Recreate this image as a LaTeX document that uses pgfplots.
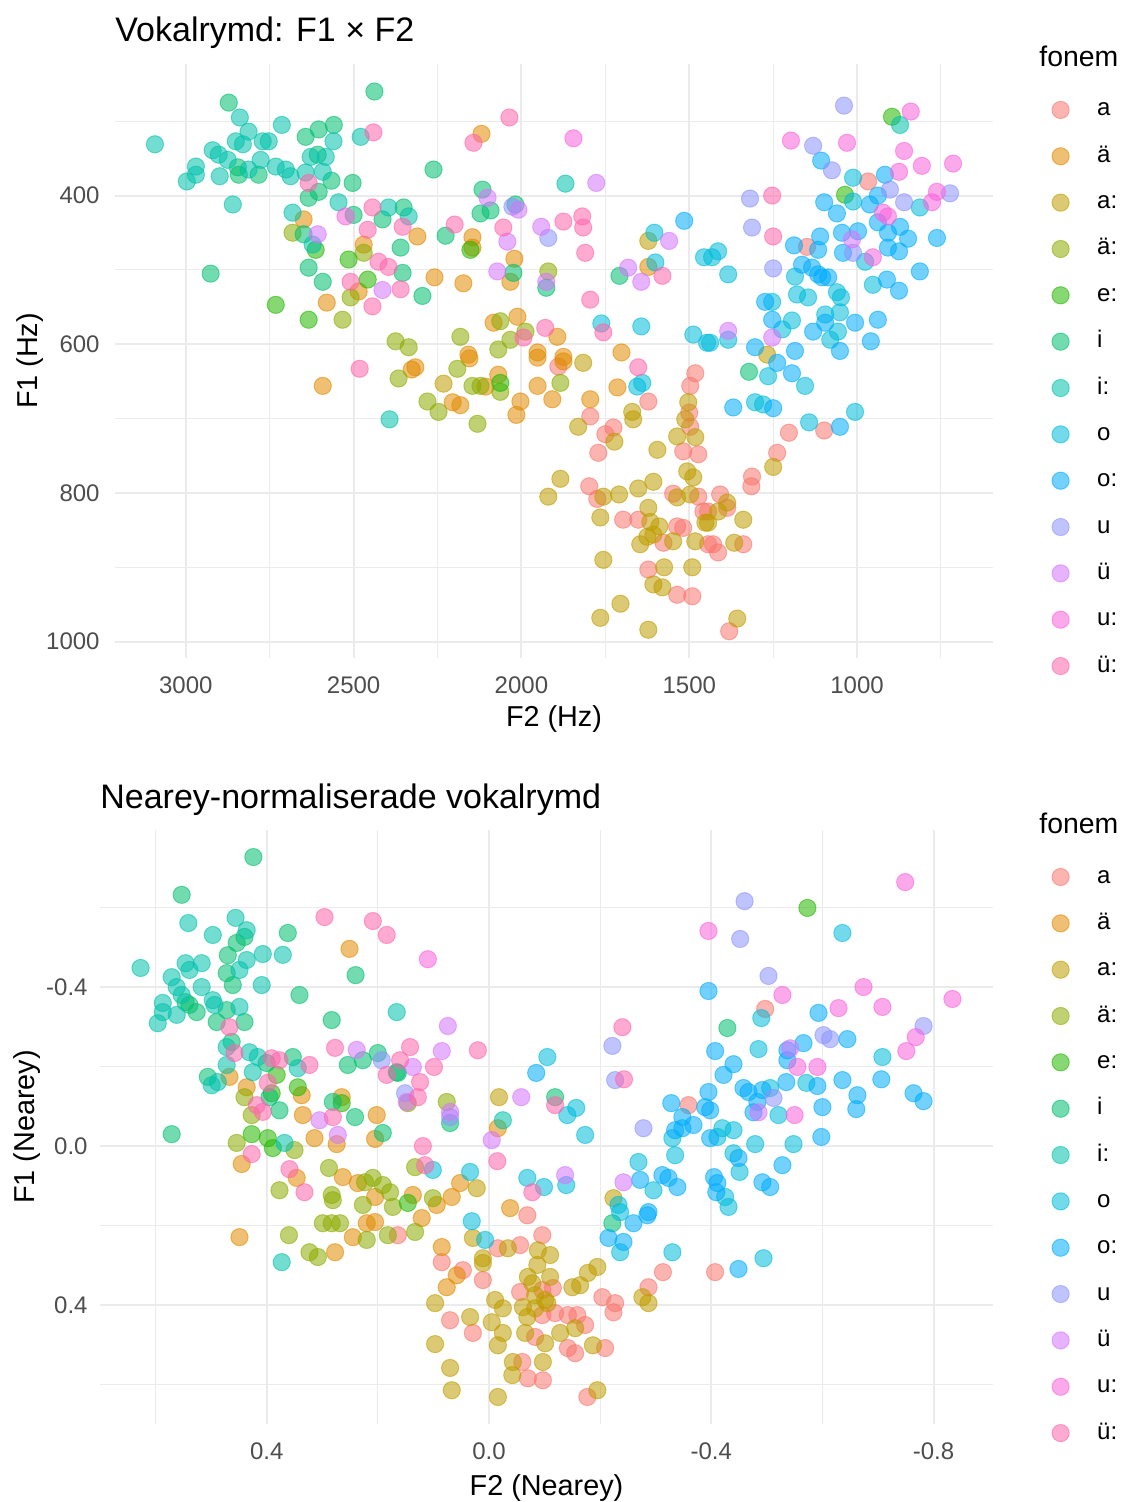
\documentclass[border=0pt]{standalone}
\usepackage{fontspec}
\setmainfont{Liberation Sans}
\usepackage{pgfplots}
\pgfplotsset{compat=1.18}
\definecolor{ca}{HTML}{F8766D}
\definecolor{cae}{HTML}{E18A00}
\definecolor{cac}{HTML}{BE9C00}
\definecolor{caec}{HTML}{8CAB00}
\definecolor{cec}{HTML}{24B700}
\definecolor{ci}{HTML}{00BE70}
\definecolor{cic}{HTML}{00C1AB}
\definecolor{co}{HTML}{00BBDA}
\definecolor{coc}{HTML}{00ACFC}
\definecolor{cu}{HTML}{8B93FF}
\definecolor{cue}{HTML}{D575FE}
\definecolor{cuc}{HTML}{F962DD}
\definecolor{cuec}{HTML}{FF65AC}
\definecolor{gridc}{HTML}{EBEBEB}
\definecolor{tickc}{HTML}{4D4D4D}
\pgfplotsset{
  pt/.style={only marks, mark=*, mark size=4.3pt, color=#1,
    mark options={fill=#1, draw=#1, fill opacity=0.55, draw opacity=0.55, line width=0.5pt}},
  common/.style={
    scale only axis,
    axis line style={draw=none},
    major tick length=0pt, minor tick length=0pt,
    tick style={draw=none},
    grid=both,
    major grid style={draw=gridc, line width=1pt},
    minor grid style={draw=gridc, line width=0.5pt},
    tick label style={font=\fontsize{12}{14}\selectfont, text=tickc},
    /pgf/number format/assume math mode=true,
    /pgf/number format/1000 sep={},
    xticklabel style={anchor=north, inner sep=0pt, yshift=-9.2pt},
    label style={font=\fontsize{14.4}{17}\selectfont},
    title style={font=\fontsize{17}{20}\selectfont, at={(axis description cs:0,1)}, anchor=base west, yshift=5pt, inner sep=0pt},
    x dir=reverse, y dir=reverse,
    xlabel style={at={(axis description cs:0.5,0)}, anchor=base, yshift=-34.5pt, inner sep=0pt},
    legend style={draw=none, fill=none, inner sep=0pt, outer sep=0pt, anchor=north west,
      row sep=11.17pt, column sep=14pt, font=\fontsize{12}{14}\selectfont,
      nodes={inner sep=0pt, text height=9pt, text depth=3pt}},
    legend cell align=left,
    legend image code/.code={\draw plot coordinates {(0pt,0pt)};},
  }
}
\begin{document}
\begin{tikzpicture}
\path[use as bounding box] (0,0) rectangle (561.5pt,751pt);
% ---------------- top panel ----------------
\begin{axis}[common,
  at={(57.5pt,422pt)}, anchor=south west,
  width=439pt, height=297pt,
  xmin=595, xmax=3211, ymin=223, ymax=1022,
  xtick={1000,1500,2000,2500,3000},
  minor xtick={750,1250,1750,2250,2750},
  ytick={400,600,800,1000},
  minor ytick={300,500,700,900},
  yticklabel style={anchor=east, inner sep=0pt, xshift=-7.5pt},
  title={Vokalrymd: F1 × F2},
  xlabel={F2 (Hz)}, ylabel={F1 (Hz)},
  ylabel style={at={(axis description cs:-0.0888,0.5)}, anchor=base, inner sep=0pt},
  legend style={at={(axis description cs:1.0672,0.9428)}},
]
\addplot[pt=ca] coordinates {(967,381)(1149,469)(1098,716)(1203,719)(1238,746)(1313,778)(1315,791)(1408,802)(1387,820)(1444,825)(1429,869)(1414,880)(1339,869)(1381,986)(1890,630)(1795,697)(1622,677)(1726,712)(1750,721)(1771,746)(1482,639)(1497,656)(1500,692)(1497,711)(1518,744)(1473,748)(1798,791)(1774,808)(1697,836)(1652,836)(1536,845)(1518,847)(1548,801)(1473,805)(1458,825)(1577,867)(1444,869)(1622,903)(1491,939)(1536,937)};
\addlegendentry{a}
\addplot[pt=cae] coordinates {(2119,317)(2310,455)(2146,456)(2146,470)(2021,485)(2033,516)(2259,510)(2173,518)(2083,571)(2012,563)(1893,590)(2158,614)(1952,611)(1875,617)(1702,611)(1622,496)(2649,432)(2470,466)(2485,529)(2580,544)(2592,656)(2327,634)(2316,631)(2155,619)(2205,678)(2182,682)(2107,657)(2069,641)(2003,677)(2015,695)(1952,656)(1908,674)(1875,623)(1952,618)(1795,674)(1714,658)};
\addlegendentry{ä}
\addplot[pt=cac] coordinates {(1622,461)(2232,653)(1816,625)(1831,711)(1670,691)(1667,701)(1723,731)(1503,678)(1512,701)(1536,724)(1482,725)(1595,742)(1884,781)(1920,805)(1756,805)(1709,802)(1652,794)(1607,785)(1765,833)(1622,820)(1616,839)(1589,845)(1536,806)(1506,771)(1488,779)(1497,802)(1452,840)(1646,869)(1625,859)(1607,856)(1548,865)(1482,865)(1756,890)(1575,900)(1491,900)(1607,923)(1580,927)(1705,949)(1765,968)(1622,984)(1250,765)(1387,813)(1414,825)(1444,840)(1339,836)(1366,867)(1357,969)(1268,614)};
\addlegendentry{a:}
\addplot[pt=caec] coordinates {(2682,450)(2470,477)(2509,537)(2533,567)(2375,596)(2336,604)(2366,646)(2063,569)(2182,590)(1988,583)(2033,594)(2069,607)(1920,502)(2191,633)(2280,677)(2247,691)(2146,656)(2122,656)(2063,664)(2131,707)(1884,652)};
\addlegendentry{ä:}
\addplot[pt=cec] coordinates {(2613,473)(2515,486)(2458,513)(2732,547)(2634,567)(2063,652)(896,294)(1036,399)(2152,473)};
\addlegendentry{e:}
\addplot[pt=ci] coordinates {(2872,275)(2438,260)(2845,362)(2842,372)(2783,372)(2643,321)(2604,311)(2559,305)(2607,345)(2566,380)(2604,395)(2634,403)(2503,383)(2649,452)(2351,416)(2414,432)(2360,470)(2634,497)(2592,516)(2354,504)(2926,505)(2500,426)(2262,365)(2116,392)(2122,424)(2092,420)(2018,412)(2226,454)(1926,524)(1708,508)(2024,504)(2295,535)(1322,637)};
\addlegendentry{i}
\addplot[pt=cic] coordinates {(3092,331)(2839,295)(2813,314)(2714,305)(2851,327)(2830,331)(2771,327)(2753,327)(2920,339)(2902,345)(2875,352)(2970,361)(2997,381)(2970,372)(2899,374)(2813,365)(2777,352)(2732,361)(2702,365)(2688,374)(2560,327)(2628,348)(2583,348)(2643,369)(2592,368)(2479,321)(2860,412)(2545,409)(2682,423)(2622,466)(2396,416)(2336,428)(2393,701)(1869,384)(872,305)};
\addlegendentry{i:}
\addplot[pt=co] coordinates {(1601,490)(1456,483)(1762,572)(1643,576)(1488,587)(1447,598)(1604,450)(1012,376)(1012,408)(813,416)(1414,475)(1432,483)(1384,506)(1185,509)(976,489)(953,520)(1253,543)(1179,533)(1146,537)(1060,530)(1048,537)(1194,568)(1223,580)(1095,560)(1051,557)(1057,583)(1080,594)(1438,598)(1384,594)(1265,643)(1155,656)(1304,678)(1143,705)(1006,691)(1655,657)(1640,652)(1280,681)};
\addlegendentry{o}
\addplot[pt=coc] coordinates {(1515,434)(1107,353)(917,372)(1098,409)(1060,424)(962,412)(938,400)(938,436)(908,450)(872,442)(848,458)(762,457)(1110,455)(1045,450)(997,448)(1188,467)(1116,473)(1042,477)(908,470)(875,475)(1164,493)(1134,497)(1116,506)(1104,510)(1086,510)(813,502)(911,513)(875,528)(1274,543)(1253,567)(1095,571)(1006,571)(938,567)(1131,583)(1051,609)(959,596)(1304,604)(1185,609)(1194,639)(1238,625)(1369,685)(1250,686)(1051,711)};
\addlegendentry{o:}
\addplot[pt=cu] coordinates {(1039,279)(1131,333)(1075,366)(902,392)(1319,404)(860,409)(723,397)(1313,443)(1920,457)(1250,498)(1012,477)(2027,415)};
\addlegendentry{u}
\addplot[pt=cue] coordinates {(1777,383)(1941,442)(2042,462)(1560,461)(1682,497)(1643,516)(1926,516)(2072,502)(2101,403)(2009,419)(2414,527)(2607,452)(1015,459)(1384,582)(1253,591)};
\addlegendentry{ü}
\addplot[pt=cuc] coordinates {(1845,323)(1197,326)(1030,329)(840,287)(860,340)(807,360)(714,357)(875,368)(762,395)(777,409)(923,423)(908,428)(953,483)(2524,428)};
\addlegendentry{u:}
\addplot[pt=cuec] coordinates {(2036,295)(2143,329)(2441,315)(2634,383)(2444,416)(2354,442)(2458,446)(2426,489)(2396,496)(2509,516)(2360,526)(2444,549)(2482,633)(2199,439)(2054,443)(1875,435)(1819,428)(1816,443)(1810,477)(1994,591)(1929,578)(1795,540)(1756,584)(1652,631)(1580,508)(1253,400)(1250,455)};
\addlegendentry{ü:}
\end{axis}
\node[anchor=base west, inner sep=0pt, font=\fontsize{14.2}{17}\selectfont] at (519.5pt,717.5pt) {fonem};
% ---------------- bottom panel ----------------
\begin{axis}[common,
  at={(50pt,39pt)}, anchor=south west,
  width=446.5pt, height=297pt,
  xmin=-0.907, xmax=0.700, ymin=-0.795, ymax=0.699,
  xtick={-0.8,-0.4,0,0.4},
  minor xtick={-0.6,-0.2,0.2,0.6},
  ytick={-0.4,0,0.4},
  minor ytick={-0.6,-0.2,0.2,0.6},
  xticklabel={\pgfmathprintnumber[fixed,fixed zerofill,precision=1]{\tick}},
  yticklabel={\pgfmathprintnumber[fixed,fixed zerofill,precision=1]{\tick}},
  yticklabel style={anchor=east, inner sep=0pt, xshift=-6pt},
  title={Nearey-normaliserade vokalrymd},
  xlabel={F2 (Nearey)}, ylabel={F1 (Nearey)},
  xlabel style={yshift=-1pt},
  ylabel style={at={(axis description cs:-0.0728,0.5)}, anchor=base, inner sep=0pt},
  legend style={at={(axis description cs:1.0661,0.9411)}},
]
\addplot[pt=ca] coordinates {(-0.359,-0.103)(-0.407,0.317)(-0.313,0.317)(-0.287,0.355)(-0.204,0.380)(-0.227,0.395)(-0.224,0.418)(-0.016,0.257)(-0.056,0.249)(-0.096,0.224)(0.047,0.312)(0.011,0.337)(-0.056,0.367)(-0.115,0.357)(-0.096,0.362)(0.070,0.438)(0.029,0.470)(-0.096,0.425)(-0.119,0.420)(-0.142,0.425)(-0.159,0.425)(-0.173,0.450)(-0.083,0.480)(-0.142,0.508)(-0.155,0.521)(-0.209,0.508)(-0.060,0.543)(-0.070,0.584)(-0.097,0.589)(-0.177,0.631)(0.085,0.292)(0.164,0.224)(-0.069,0.174)(-0.497,-0.345)};
\addlegendentry{a}
\addplot[pt=cae] coordinates {(0.251,-0.496)(0.467,-0.174)(0.436,-0.148)(0.337,-0.128)(0.265,-0.123)(0.335,-0.078)(0.202,-0.078)(0.314,-0.020)(0.274,-0.005)(0.205,-0.018)(0.346,0.080)(0.445,0.045)(0.263,0.078)(0.236,0.093)(0.205,0.128)(0.220,0.194)(0.205,0.191)(0.245,0.229)(0.449,0.229)(0.277,0.267)(-0.016,-0.045)(0.052,0.093)(0.067,0.128)(0.137,0.123)(0.094,0.148)(0.121,0.181)(0.085,0.254)(0.058,0.325)(0.076,0.355)(-0.038,0.156)};
\addlegendentry{ä}
\addplot[pt=cac] coordinates {(-0.018,-0.123)(0.022,0.106)(0.029,0.231)(-0.034,0.257)(0.011,0.282)(0.011,0.294)(-0.088,0.262)(-0.110,0.274)(-0.087,0.299)(-0.070,0.329)(-0.110,0.329)(-0.078,0.345)(-0.150,0.355)(-0.164,0.350)(-0.178,0.319)(-0.195,0.304)(-0.276,0.380)(-0.287,0.395)(0.097,0.395)(0.034,0.430)(-0.011,0.387)(-0.025,0.408)(-0.005,0.443)(-0.025,0.470)(-0.016,0.501)(-0.061,0.405)(-0.083,0.408)(-0.105,0.395)(-0.069,0.430)(-0.065,0.470)(-0.101,0.496)(-0.128,0.470)(-0.155,0.458)(-0.187,0.501)(0.097,0.498)(-0.043,0.543)(-0.097,0.543)(-0.042,0.576)(0.070,0.558)(0.067,0.614)(-0.016,0.631)(-0.195,0.614)(-0.224,0.131)(-0.083,0.375)(-0.101,0.387)};
\addlegendentry{a:}
\addplot[pt=caec] coordinates {(0.440,-0.123)(0.427,-0.078)(0.454,-0.008)(0.350,0.010)(0.377,0.111)(0.288,0.055)(0.223,0.091)(0.209,0.080)(0.191,0.098)(0.178,0.116)(0.283,0.123)(0.281,0.136)(0.227,0.148)(0.173,0.153)(0.299,0.194)(0.283,0.194)(0.268,0.194)(0.220,0.236)(0.182,0.224)(0.360,0.224)(0.323,0.267)(0.308,0.279)(0.133,0.053)(0.101,0.131)(0.133,0.216)(0.146,-0.108)(0.076,-0.111)};
\addlegendentry{ä:}
\addplot[pt=cec] coordinates {(0.382,-0.179)(0.391,-0.133)(0.344,-0.148)(0.265,-0.108)(0.427,-0.030)(0.398,-0.020)(0.389,0.005)(0.146,0.143)(-0.573,-0.599)};
\addlegendentry{e:}
\addplot[pt=ci] coordinates {(0.424,-0.727)(0.553,-0.632)(0.440,-0.526)(0.454,-0.511)(0.362,-0.536)(0.240,-0.430)(0.470,-0.480)(0.472,-0.435)(0.461,-0.405)(0.546,-0.362)(0.539,-0.355)(0.526,-0.337)(0.472,-0.342)(0.490,-0.312)(0.440,-0.312)(0.341,-0.380)(0.283,-0.317)(0.463,-0.262)(0.400,-0.209)(0.353,-0.224)(0.254,-0.204)(0.227,-0.216)(0.200,-0.234)(0.166,-0.186)(0.506,-0.174)(0.395,-0.123)(0.377,-0.090)(0.281,-0.111)(0.241,-0.073)(0.571,-0.030)(0.191,-0.033)(0.070,-0.058)(0.164,-0.184)(-0.119,-0.123)(-0.429,-0.297)(-0.222,0.194)};
\addlegendentry{i}
\addplot[pt=cic] coordinates {(0.541,-0.561)(0.456,-0.574)(0.436,-0.543)(0.497,-0.531)(0.407,-0.483)(0.371,-0.481)(0.627,-0.448)(0.546,-0.460)(0.539,-0.443)(0.517,-0.460)(0.436,-0.468)(0.449,-0.443)(0.409,-0.405)(0.571,-0.425)(0.562,-0.400)(0.553,-0.380)(0.517,-0.400)(0.497,-0.367)(0.494,-0.355)(0.587,-0.360)(0.587,-0.337)(0.596,-0.309)(0.562,-0.330)(0.449,-0.350)(0.166,-0.337)(0.472,-0.249)(0.431,-0.236)(0.416,-0.224)(0.344,-0.196)(0.472,-0.204)(0.488,-0.161)(0.499,-0.153)(0.425,-0.186)(0.368,-0.008)(0.373,0.292)(-0.025,-0.065)};
\addlegendentry{i:}
\addplot[pt=co] coordinates {(-0.105,-0.224)(-0.157,-0.096)(-0.141,-0.078)(-0.173,-0.028)(0.034,0.065)(0.101,0.060)(-0.069,0.080)(-0.099,0.103)(-0.139,0.098)(0.031,0.189)(0.007,0.236)(-0.636,-0.536)(-0.490,-0.322)(-0.485,-0.244)(-0.571,-0.159)(-0.708,-0.224)(-0.506,-0.146)(-0.521,-0.078)(-0.330,-0.020)(-0.335,0.023)(-0.233,0.148)(-0.236,0.166)(-0.236,0.267)(-0.296,0.111)(-0.269,0.040)(-0.330,0.267)(-0.420,-0.045)(-0.440,-0.040)(-0.411,-0.023)(-0.479,-0.005)(-0.548,-0.005)(-0.440,0.018)(-0.451,0.065)(-0.425,0.128)(-0.431,0.153)(-0.494,0.282)};
\addlegendentry{o}
\addplot[pt=coc] coordinates {(-0.085,-0.184)(-0.395,-0.390)(-0.593,-0.335)(-0.645,-0.269)(-0.407,-0.239)(-0.566,-0.259)(-0.537,-0.241)(-0.537,-0.216)(-0.440,-0.206)(-0.422,-0.179)(-0.535,-0.161)(-0.591,-0.151)(-0.636,-0.166)(-0.706,-0.168)(-0.663,-0.128)(-0.764,-0.133)(-0.782,-0.113)(-0.395,-0.136)(-0.389,-0.098)(-0.398,-0.090)(-0.458,-0.146)(-0.467,-0.136)(-0.492,-0.141)(-0.483,-0.111)(-0.476,-0.085)(-0.600,-0.098)(-0.661,-0.093)(-0.328,-0.108)(-0.348,-0.073)(-0.368,-0.053)(-0.398,-0.020)(-0.598,-0.023)(-0.449,0.030)(-0.528,0.048)(-0.405,0.078)(-0.411,0.093)(-0.409,0.116)(-0.492,0.091)(-0.506,0.103)(-0.449,0.309)(-0.335,-0.040)(-0.348,-0.045)(-0.272,0.085)(-0.312,0.073)(-0.323,0.080)(-0.339,0.103)(-0.260,0.194)(-0.285,0.174)(-0.287,0.166)(-0.215,0.231)(-0.242,0.241)};
\addlegendentry{o:}
\addplot[pt=cu] coordinates {(-0.460,-0.616)(-0.452,-0.521)(-0.503,-0.428)(-0.602,-0.279)(-0.614,-0.269)(-0.512,-0.121)(-0.222,-0.252)(-0.227,-0.166)(-0.278,-0.045)(0.151,-0.133)(0.070,-0.073)(0.193,-0.216)(-0.782,-0.302)};
\addlegendentry{u}
\addplot[pt=cue] coordinates {(0.074,-0.302)(0.085,-0.239)(0.137,-0.199)(0.148,-0.111)(0.070,-0.086)(-0.058,-0.123)(-0.005,-0.015)(-0.137,0.073)(-0.242,0.091)(0.238,-0.242)(0.272,-0.028)(0.305,-0.065)(-0.485,-0.085)(-0.542,-0.246)};
\addlegendentry{ü}
\addplot[pt=cuc] coordinates {(0.110,-0.470)(-0.749,-0.664)(-0.395,-0.541)(-0.528,-0.380)(-0.674,-0.400)(-0.629,-0.347)(-0.708,-0.350)(-0.834,-0.370)(-0.768,-0.274)(-0.751,-0.239)(-0.555,-0.199)(-0.591,-0.199)(-0.550,-0.078)};
\addlegendentry{u:}
\addplot[pt=cuec] coordinates {(0.296,-0.576)(0.209,-0.566)(0.184,-0.531)(0.277,-0.247)(0.467,-0.299)(0.458,-0.234)(0.391,-0.221)(0.377,-0.216)(0.323,-0.204)(0.184,-0.179)(0.398,-0.159)(0.418,-0.103)(0.407,-0.086)(0.281,-0.073)(0.427,0.020)(0.359,0.058)(0.332,0.116)(0.160,-0.216)(0.099,-0.199)(0.124,-0.161)(0.128,-0.123)(0.020,-0.241)(-0.240,-0.299)(-0.243,-0.168)(-0.119,-0.103)(0.119,0.000)(-0.015,0.038)(0.115,0.048)(-0.078,0.116)(0.142,-0.249)};
\addlegendentry{ü:}
\end{axis}
\node[anchor=base west, inner sep=0pt, font=\fontsize{14.2}{17}\selectfont] at (519.5pt,334pt) {fonem};
\end{tikzpicture}
\end{document}
